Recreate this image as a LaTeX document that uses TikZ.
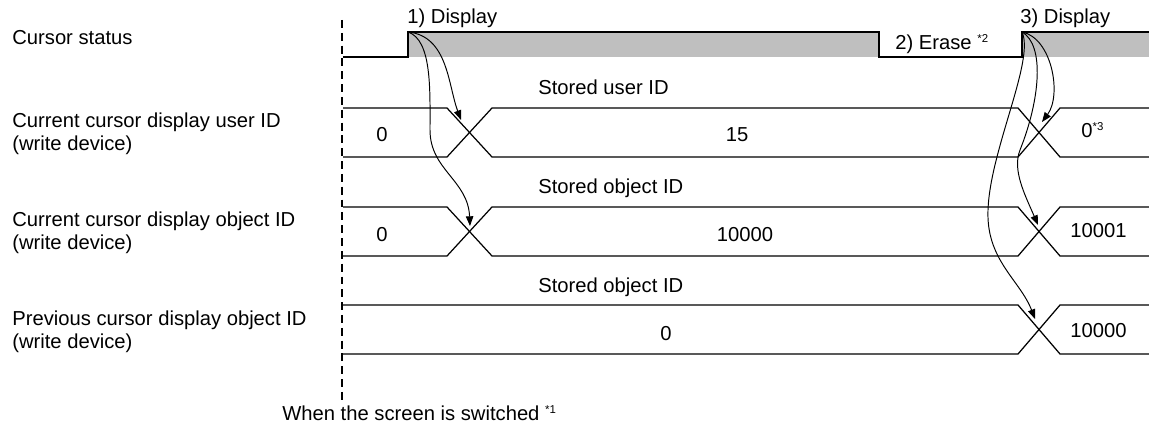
\documentclass[tikz,border=0pt]{standalone}
\usepackage{fontspec}
\setmainfont{Liberation Sans}
\usepackage{tikz}
\usetikzlibrary{arrows.meta}
\newcommand{\fnote}[1]{\textsuperscript{\fontsize{6.5}{7}\selectfont *#1}}
\tikzset{
  sig/.style    = {line width=0.7pt},
  hiband/.style = {fill=black!25, draw=none},
  bus/.style    = {line width=0.7pt},
  swline/.style = {line width=1pt, dash pattern=on 4.5pt off 2.8pt},
  cause/.style  = {line width=0.55pt, -{Triangle[length=5.5pt,width=4.2pt]}},
  lbl/.style    = {inner sep=0pt, anchor=base west},
  rowlbl/.style = {inner sep=0pt, anchor=west, align=left},
  val/.style    = {inner sep=0pt, anchor=base},
}

\begin{document}
\begin{tikzpicture}[x=0.02cm, y=-0.02cm, font=\fontsize{11.5}{13}\selectfont]
\useasboundingbox (0,0) rectangle (1149,428);

%── screen switch marker ─────────────────────────────────────────
\coordinate (swtop) at (342,20);
\coordinate (swbot) at (342,400);
\draw[swline] (swtop) -- (swbot);
\node[lbl] (swtxt) at (282,421) {When the screen is switched \fnote{1}};

%── cursor status waveform ───────────────────────────────────────
\coordinate (r1) at (408,32);
\coordinate (r3) at (1022,32);
\fill[hiband] (408,32) rectangle (879,57);
\fill[hiband] (1022,32) rectangle (1149,57);
\draw[sig] (343,57) -- (408,57) -- (r1) -- (879,32) -- (879,57)
           -- (1022,57) -- (r3) -- (1149,32);
\node[lbl] (cstat) at (12,45)   {Cursor status};
\node[lbl] (disp1) at (407,24)  {1) Display};
\node[lbl] (erase) at (895,50)  {2) Erase \fnote{2}};
\node[lbl] (disp3) at (1020,24) {3) Display};

%── current user ID (row 1) ──────────────────────────────────────
\draw[bus] (343,108) -- (447,108) -- (492,157) -- (1018,157) -- (1060,108) -- (1149,108);
\draw[bus] (343,157) -- (447,157) -- (492,108) -- (1018,108) -- (1060,157) -- (1149,157);
\node[rowlbl] (lab1) at (12,134) {Current cursor display user ID\\(write device)};
\node[lbl] (st1) at (538,95) {Stored user ID};
\node[val] (u0)  at (382,142) {0};
\node[val] (u15) at (737,142) {15};
\node[lbl] (u0b) at (1081,138) {0\fnote{3}};

%── current object ID (row 2) ────────────────────────────────────
\draw[bus] (343,207) -- (447,207) -- (492,256) -- (1018,256) -- (1060,207) -- (1149,207);
\draw[bus] (343,256) -- (447,256) -- (492,207) -- (1018,207) -- (1060,256) -- (1149,256);
\node[rowlbl] (lab2) at (12,233) {Current cursor display object ID\\(write device)};
\node[lbl] (st2) at (538,194) {Stored object ID};
\node[val] (c0)     at (382,242) {0};
\node[val] (c10000) at (745,242) {10000};
\node[lbl] (c10001) at (1070,238) {10001};

%── previous object ID (row 3) ───────────────────────────────────
\draw[bus] (343,305) -- (1018,305) -- (1060,354) -- (1149,354);
\draw[bus] (343,354) -- (1018,354) -- (1060,305) -- (1149,305);
\node[rowlbl] (lab3) at (12,332) {Previous cursor display object ID\\(write device)};
\node[lbl] (st3) at (538,293) {Stored object ID};
\node[val] (p0)     at (666,341) {0};
\node[lbl] (p10000) at (1070,338) {10000};

%── cause arrows ─────────────────────────────────────────────────
\coordinate (t1u) at (461,120);
\coordinate (t1o) at (470,226);
\coordinate (t3u) at (1042,122);
\coordinate (t3o) at (1038,225);
\coordinate (t3p) at (1035,319);
% 1) Display -> row 1, row 2
\draw[cause] (r1) .. controls (448,36) and (448,85) .. (t1u);
\draw[cause] (r1) .. controls (432,40) and (430,90) .. (430,130)
                  .. controls (430,170) and (468,180) .. (t1o);
% 3) Display -> row 1, row 2, row 3
\draw[cause] (r3) .. controls (1052,38) and (1062,95) .. (t3u);
\draw[cause] (r3) .. controls (1045,45) and (1040,100) .. (1020,150)
                  .. controls (1012,170) and (1025,195) .. (t3o);
\draw[cause] (r3) .. controls (1035,60) and (990,150) .. (988,210)
                  .. controls (986,260) and (1020,280) .. (t3p);

\end{tikzpicture}
\end{document}
